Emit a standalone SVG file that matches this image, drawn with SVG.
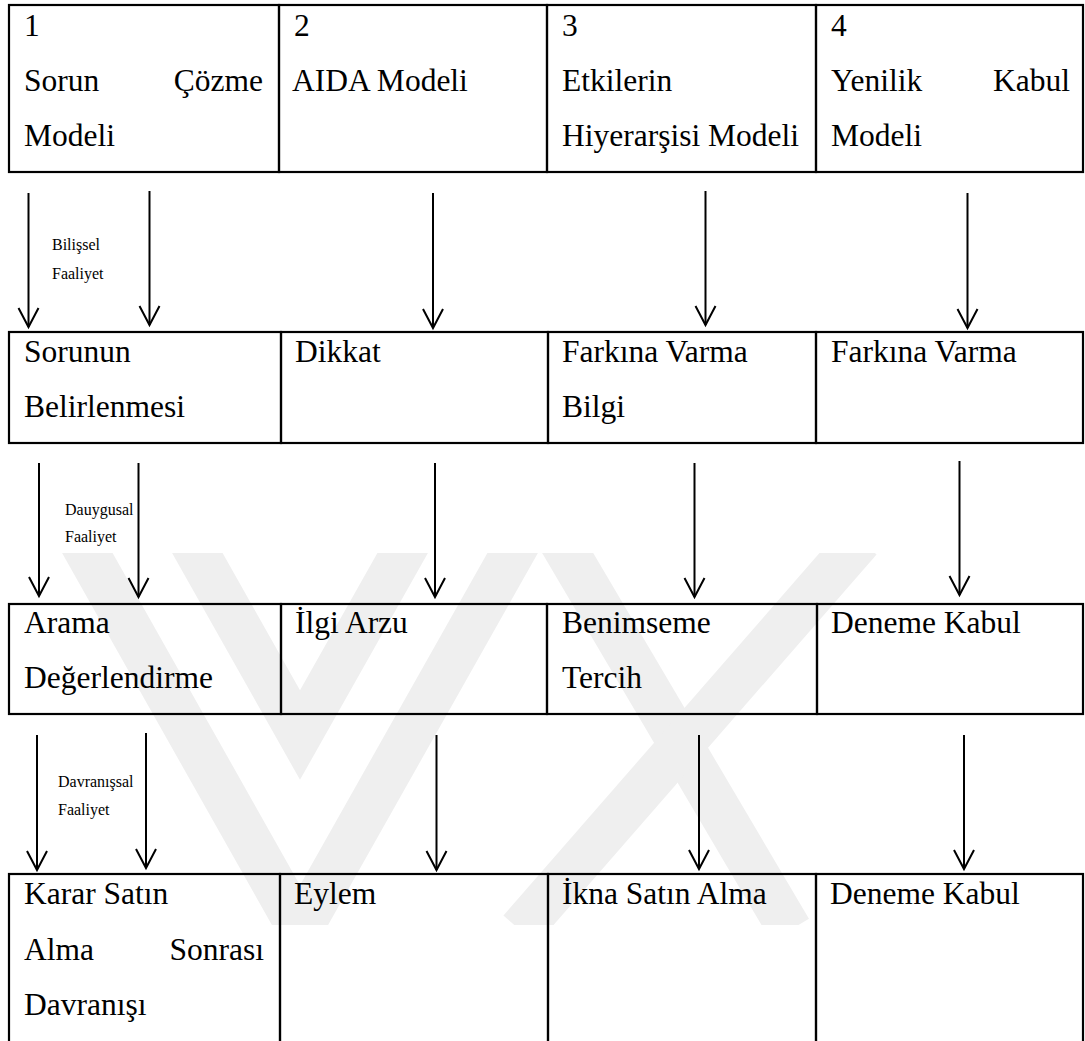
<svg xmlns="http://www.w3.org/2000/svg" width="1085" height="1041" viewBox="0 0 1085 1041">
<style>
.cell{fill:none;stroke:#000;stroke-width:2.2}
.t{font-family:"Liberation Serif","Times New Roman",serif;font-size:31.5px;fill:#000}
.s{font-family:"Liberation Serif","Times New Roman",serif;font-size:16px;fill:#000}
.ar{fill:none;stroke:#000;stroke-width:2}
.wm{fill:none;stroke:#efefef;stroke-width:44;stroke-linecap:butt}
</style>
<defs>
<marker id="ah" markerUnits="userSpaceOnUse" markerWidth="24" markerHeight="24" viewBox="-21 -12 24 24" refX="0" refY="0" orient="auto">
<path d="M-19,-10 L0,0 L-19,10" fill="none" stroke="#000" stroke-width="2"/>
</marker>
<clipPath id="wmclip"><rect x="0" y="553" width="1085" height="372"/></clipPath>
</defs>
<rect width="1085" height="1041" fill="#fff"/>
<g id="watermark" clip-path="url(#wmclip)">
<path class="wm" d="M80,540 L300,930 L520,540"/>
<path class="wm" d="M190,540 L300,735 L410,540"/>
<path class="wm" d="M560,540 L790,930"/>
<path class="wm" d="M520,930 L860,540"/>
</g>
<g id="connectors">
<line class="ar" x1="28.5" y1="193" x2="28.5" y2="327" marker-end="url(#ah)"/>
<line class="ar" x1="149.5" y1="191" x2="149.5" y2="325" marker-end="url(#ah)"/>
<line class="ar" x1="433" y1="193" x2="433" y2="328" marker-end="url(#ah)"/>
<line class="ar" x1="705.5" y1="191" x2="705.5" y2="325" marker-end="url(#ah)"/>
<line class="ar" x1="967.5" y1="193" x2="967.5" y2="328" marker-end="url(#ah)"/>
<line class="ar" x1="39" y1="463" x2="39" y2="596" marker-end="url(#ah)"/>
<line class="ar" x1="138.5" y1="463" x2="138.5" y2="597" marker-end="url(#ah)"/>
<line class="ar" x1="435" y1="463" x2="435" y2="597" marker-end="url(#ah)"/>
<line class="ar" x1="694.5" y1="463" x2="694.5" y2="597" marker-end="url(#ah)"/>
<line class="ar" x1="959.5" y1="461" x2="959.5" y2="595" marker-end="url(#ah)"/>
<line class="ar" x1="37" y1="735" x2="37" y2="870" marker-end="url(#ah)"/>
<line class="ar" x1="146" y1="733" x2="146" y2="868" marker-end="url(#ah)"/>
<line class="ar" x1="436.5" y1="735" x2="436.5" y2="870" marker-end="url(#ah)"/>
<line class="ar" x1="699" y1="735" x2="699" y2="869" marker-end="url(#ah)"/>
<line class="ar" x1="964" y1="735" x2="964" y2="869" marker-end="url(#ah)"/>
<text class="s" x="52" y="250">Bilişsel</text>
<text class="s" x="52" y="279">Faaliyet</text>
<text class="s" x="65" y="515">Dauygusal</text>
<text class="s" x="65" y="542">Faaliyet</text>
<text class="s" x="58" y="787">Davranışsal</text>
<text class="s" x="58" y="815">Faaliyet</text>
</g>
<g id="n-r1c1"><rect class="cell" x="9" y="5" width="270" height="167"/>
<text class="t" x="24" y="36">1</text><text class="t" x="24" y="91">Sorun</text><text class="t" x="263" y="91" text-anchor="end">Çözme</text><text class="t" x="24" y="146">Modeli</text></g>
<g id="n-r1c2"><rect class="cell" x="279" y="5" width="268" height="167"/>
<text class="t" x="294" y="36">2</text><text class="t" x="292" y="91">AIDA Modeli</text></g>
<g id="n-r1c3"><rect class="cell" x="547" y="5" width="269" height="167"/>
<text class="t" x="562" y="36">3</text><text class="t" x="562" y="91">Etkilerin</text><text class="t" x="562" y="146">Hiyerarşisi Modeli</text></g>
<g id="n-r1c4"><rect class="cell" x="816" y="5" width="267" height="167"/>
<text class="t" x="831" y="36">4</text><text class="t" x="831" y="91">Yenilik</text><text class="t" x="1070" y="91" text-anchor="end">Kabul</text><text class="t" x="831" y="146">Modeli</text></g>
<g id="n-r2c1"><rect class="cell" x="9" y="332" width="272" height="111"/>
<text class="t" x="24" y="362">Sorunun</text><text class="t" x="24" y="417">Belirlenmesi</text></g>
<g id="n-r2c2"><rect class="cell" x="281" y="332" width="267" height="111"/>
<text class="t" x="295" y="362">Dikkat</text></g>
<g id="n-r2c3"><rect class="cell" x="548" y="332" width="268" height="111"/>
<text class="t" x="562" y="362">Farkına Varma</text><text class="t" x="562" y="417">Bilgi</text></g>
<g id="n-r2c4"><rect class="cell" x="816" y="332" width="267" height="111"/>
<text class="t" x="831" y="362">Farkına Varma</text></g>
<g id="n-r3c1"><rect class="cell" x="9" y="604" width="272" height="110"/>
<text class="t" x="24" y="633">Arama</text><text class="t" x="24" y="688">Değerlendirme</text></g>
<g id="n-r3c2"><rect class="cell" x="281" y="604" width="266" height="110"/>
<text class="t" x="295" y="633">İlgi Arzu</text></g>
<g id="n-r3c3"><rect class="cell" x="547" y="604" width="270" height="110"/>
<text class="t" x="562" y="633">Benimseme</text><text class="t" x="562" y="688">Tercih</text></g>
<g id="n-r3c4"><rect class="cell" x="817" y="604" width="266" height="110"/>
<text class="t" x="831" y="633">Deneme Kabul</text></g>
<g id="n-r4c1"><rect class="cell" x="9" y="874" width="271" height="180"/>
<text class="t" x="24" y="904">Karar Satın</text><text class="t" x="24" y="960">Alma</text><text class="t" x="264" y="960" text-anchor="end">Sonrası</text><text class="t" x="24" y="1015">Davranışı</text></g>
<g id="n-r4c2"><rect class="cell" x="280" y="874" width="268" height="180"/>
<text class="t" x="294" y="904">Eylem</text></g>
<g id="n-r4c3"><rect class="cell" x="548" y="874" width="268" height="180"/>
<text class="t" x="562" y="904">İkna Satın Alma</text></g>
<g id="n-r4c4"><rect class="cell" x="816" y="874" width="267" height="180"/>
<text class="t" x="830" y="904">Deneme Kabul</text></g>
</svg>
